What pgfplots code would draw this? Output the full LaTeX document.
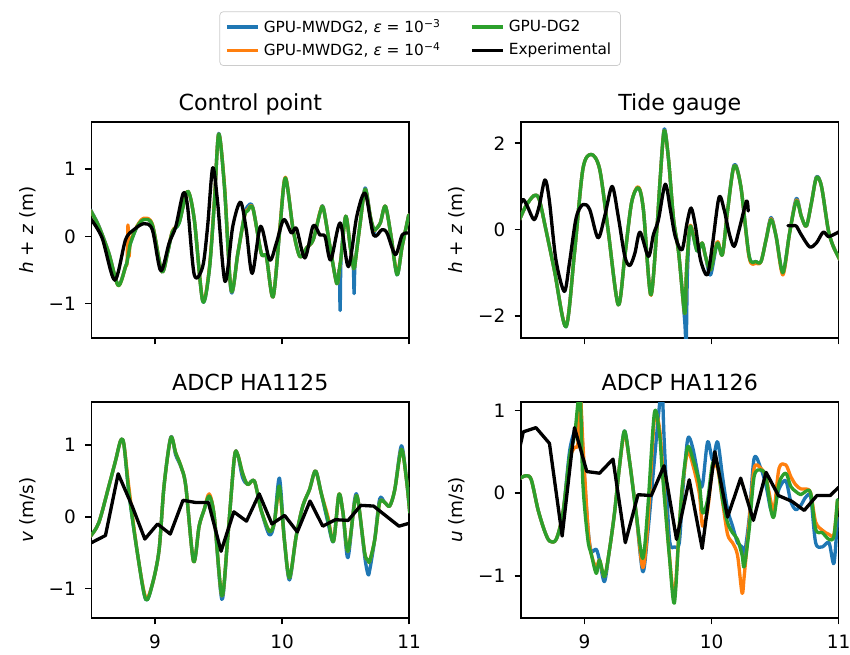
\documentclass[border=0pt]{standalone}
\usepackage{fontspec}
\setmainfont{DejaVu Sans}
\usepackage{pgfplots}
\pgfplotsset{compat=1.18}
\usepackage{pgfplotstable}
\definecolor{tabblue}{HTML}{1F77B4}
\definecolor{taborange}{HTML}{FF7F0E}
\definecolor{tabgreen}{HTML}{2CA02C}
\definecolor{leggray}{HTML}{CCCCCC}

% ---------- Control point ----------
\pgfplotstableread{
x b o g
8.491 0.40 0.39 0.39
8.557 0.16 0.15 0.15
8.636 -0.24 -0.25 -0.25
8.710 -0.72 -0.73 -0.73
8.768 -0.45 -0.45 -0.45
8.780 -0.38 -0.38 -0.38
8.787 -0.30 0.17 -0.30
8.795 -0.22 -0.30 -0.22
8.807 -0.10 -0.08 -0.10
8.860 0.15 0.16 0.15
8.913 0.26 0.27 0.25
8.979 0.17 0.18 0.17
9.053 -0.52 -0.52 -0.52
9.098 -0.25 -0.24 -0.25
9.137 0.07 0.08 0.07
9.190 0.20 0.21 0.20
9.256 0.67 0.67 0.67
9.309 0.25 0.25 0.25
9.375 -0.96 -0.95 -0.96
9.427 -0.50 -0.48 -0.50
9.467 0.50 0.52 0.50
9.501 1.53 1.52 1.52
9.546 0.75 0.77 0.75
9.599 -0.82 -0.80 -0.80
9.652 -0.25 -0.25 -0.25
9.704 0.32 0.30 0.30
9.730 0.45 0.40 0.38
9.770 0.43 0.42 0.42
9.836 -0.25 -0.25 -0.25
9.876 -0.30 -0.30 -0.30
9.929 -0.90 -0.90 -0.90
9.982 0.10 0.12 0.10
10.026 0.87 0.88 0.87
10.087 0.10 0.10 0.10
10.140 -0.30 -0.30 -0.30
10.193 -0.17 -0.17 -0.17
10.245 -0.05 -0.05 -0.05
10.298 0.35 0.36 0.35
10.325 0.43 0.42 0.42
10.377 -0.15 -0.15 -0.15
10.430 -0.70 -0.70 -0.70
10.450 -0.50 -0.50 -0.50
10.457 -1.10 -0.40 -0.40
10.465 -0.30 -0.30 -0.30
10.501 0.30 0.30 0.30
10.536 -0.15 -0.15 -0.15
10.560 -0.45 -0.45 -0.45
10.567 -0.85 -0.47 -0.47
10.575 -0.40 -0.40 -0.40
10.615 0.20 0.20 0.20
10.654 0.72 0.70 0.70
10.694 0.30 0.30 0.30
10.720 0.05 0.10 0.12
10.734 0.10 0.10 0.10
10.773 0.20 0.20 0.20
10.813 0.45 0.45 0.45
10.858 0.00 0.00 0.00
10.905 -0.57 -0.55 -0.57
10.945 -0.15 -0.15 -0.15
10.997 0.32 0.32 0.32
}\TLmodel
\pgfplotstableread{
x y
8.491 0.27
8.583 -0.02
8.683 -0.65
8.768 -0.05
8.834 0.10
8.913 0.19
8.979 0.10
9.045 -0.51
9.111 -0.10
9.164 0.15
9.222 0.64
9.256 0.45
9.309 -0.57
9.375 -0.45
9.414 0.15
9.454 1.02
9.493 0.50
9.551 -0.67
9.612 0.15
9.673 0.51
9.718 0.10
9.765 -0.55
9.831 0.15
9.902 -0.35
9.955 -0.10
10.013 0.25
10.074 0.05
10.113 0.12
10.179 -0.32
10.245 0.16
10.298 0.02
10.338 0.00
10.383 -0.35
10.457 0.20
10.522 -0.45
10.588 0.30
10.654 0.64
10.720 0.02
10.786 0.10
10.826 0.05
10.892 -0.27
10.945 0.02
10.997 0.05
}\TLexp

% ---------- Tide gauge ----------
\pgfplotstableread{
x b o g
8.489 0.23 0.23 0.23
8.537 0.54 0.54 0.54
8.603 0.79 0.79 0.79
8.643 0.70 0.70 0.70
8.696 0.00 0.00 0.00
8.762 -0.93 -0.93 -0.93
8.854 -2.25 -2.24 -2.25
8.921 -0.54 -0.54 -0.54
8.987 1.40 1.40 1.40
9.053 1.74 1.74 1.74
9.119 1.40 1.40 1.40
9.185 0.00 0.00 0.00
9.265 -1.74 -1.74 -1.74
9.317 -0.62 -0.62 -0.62
9.370 0.62 0.62 0.62
9.423 0.97 0.99 0.97
9.463 0.47 0.47 0.47
9.521 -1.51 -1.52 -1.51
9.569 0.00 0.00 0.00
9.595 1.16 1.16 1.16
9.627 2.33 2.29 2.29
9.661 1.63 1.63 1.63
9.701 0.23 0.23 0.23
9.741 -0.54 -0.54 -0.54
9.788 -2.10 -1.94 -1.94
9.800 -2.70 -1.10 -1.10
9.810 -1.00 -0.60 -0.60
9.833 0.08 0.10 0.08
9.886 -0.50 -0.45 -0.50
9.926 -0.31 -0.31 -0.31
9.952 -0.62 -0.62 -0.62
9.992 -1.05 -0.93 -0.93
10.045 -0.31 -0.28 -0.31
10.085 -0.58 -0.58 -0.58
10.124 0.39 0.39 0.39
10.177 1.50 1.47 1.47
10.230 1.00 1.00 1.00
10.296 -0.62 -0.65 -0.62
10.349 -0.74 -0.78 -0.74
10.389 -0.74 -0.74 -0.74
10.429 -0.23 -0.23 -0.23
10.468 0.28 0.25 0.23
10.508 -0.16 -0.16 -0.16
10.561 -1.00 -1.05 -1.00
10.614 -0.08 -0.08 -0.08
10.667 0.72 0.68 0.66
10.706 0.31 0.31 0.31
10.746 0.08 0.08 0.08
10.786 0.62 0.62 0.62
10.825 1.22 1.20 1.20
10.865 1.00 1.00 1.00
10.918 0.00 0.00 0.00
10.958 -0.39 -0.39 -0.39
11.010 -0.70 -0.70 -0.70
}\TRmodel
\pgfplotstableread{
x y
8.489 0.54
8.516 0.70
8.550 0.54
8.603 0.23
8.643 0.54
8.688 1.15
8.722 0.70
8.775 -0.70
8.841 -1.43
8.881 -0.78
8.934 0.27
8.987 0.58
9.040 0.47
9.106 -0.19
9.159 0.31
9.217 1.00
9.265 0.31
9.317 -0.62
9.357 -0.83
9.397 -0.54
9.437 -0.06
9.503 -0.62
9.542 -0.12
9.582 0.23
9.635 1.05
9.675 0.47
9.714 -0.16
9.767 -0.47
9.807 0.16
9.839 0.50
9.873 0.08
9.913 -0.70
9.966 -1.05
10.005 -0.39
10.058 0.74
10.098 0.47
10.138 -0.08
10.177 -0.39
10.217 0.00
10.275 0.66
10.288 0.43
}\TRexpA
\pgfplotstableread{
x y
10.601 0.09
10.640 0.09
10.667 0.08
10.706 -0.12
10.772 -0.40
10.825 -0.31
10.878 -0.06
10.918 -0.16
10.958 -0.12
11.010 -0.04
}\TRexpB

% ---------- ADCP HA1125 ----------
\pgfplotstableread{
x b o g
8.492 -0.27 -0.27 -0.27
8.558 -0.08 -0.08 -0.08
8.637 0.43 0.43 0.43
8.689 0.78 0.78 0.78
8.729 1.06 1.06 1.06
8.755 1.01 1.01 1.01
8.795 0.33 0.40 0.33
8.861 -0.50 -0.50 -0.50
8.926 -1.15 -1.12 -1.15
8.979 -0.94 -0.94 -0.94
9.032 -0.46 -0.46 -0.46
9.071 0.43 0.43 0.43
9.124 1.11 1.10 1.10
9.163 0.86 0.89 0.89
9.203 0.70 0.71 0.71
9.242 0.43 0.43 0.43
9.303 -0.62 -0.62 -0.62
9.347 -0.13 -0.13 -0.13
9.387 0.10 0.10 0.10
9.426 0.29 0.32 0.29
9.466 0.01 0.01 0.01
9.526 -1.15 -1.10 -1.10
9.571 -0.32 -0.32 -0.32
9.624 0.82 0.82 0.82
9.650 0.87 0.87 0.87
9.689 0.55 0.61 0.61
9.729 0.45 0.45 0.45
9.782 0.50 0.50 0.50
9.834 0.10 0.10 0.10
9.900 -0.25 -0.20 -0.20
9.939 -0.08 -0.08 -0.08
9.979 0.54 0.38 0.43
10.018 -0.32 -0.32 -0.32
10.058 -0.88 -0.85 -0.85
10.111 -0.27 -0.27 -0.27
10.163 0.15 0.15 0.15
10.216 0.38 0.38 0.38
10.263 0.64 0.64 0.64
10.308 0.33 0.33 0.33
10.361 -0.08 0.00 -0.04
10.405 -0.34 -0.34 -0.34
10.447 0.31 0.31 0.31
10.479 0.06 0.06 0.06
10.518 -0.57 -0.48 -0.48
10.571 0.24 0.20 0.20
10.597 0.24 0.24 0.24
10.650 -0.55 -0.50 -0.50
10.676 -0.80 -0.60 -0.60
10.689 -0.75 -0.62 -0.62
10.729 -0.32 -0.32 -0.32
10.768 0.25 0.20 0.20
10.808 0.20 0.20 0.20
10.847 0.15 0.15 0.15
10.887 0.38 0.38 0.38
10.939 0.99 0.94 0.94
10.979 0.52 0.52 0.52
11.005 0.06 0.06 0.06
}\BLmodel
\pgfplotstableread{
x y
8.50 -0.36
8.61 -0.26
8.71 0.60
8.82 0.15
8.92 -0.31
9.02 -0.10
9.12 -0.24
9.22 0.23
9.32 0.20
9.42 0.20
9.52 -0.48
9.62 0.07
9.72 -0.06
9.82 0.32
9.92 -0.10
10.02 0.02
10.12 -0.21
10.22 0.22
10.32 -0.13
10.42 -0.04
10.52 -0.05
10.62 0.16
10.72 0.15
10.82 0.01
10.92 -0.13
11.00 -0.09
}\BLexp

% ---------- ADCP HA1126 ----------
\pgfplotstableread{
x b o g
8.495 0.18 0.18 0.18
8.542 0.21 0.21 0.21
8.581 0.16 0.16 0.16
8.634 -0.20 -0.20 -0.20
8.686 -0.46 -0.46 -0.46
8.725 -0.58 -0.58 -0.58
8.777 -0.56 -0.56 -0.56
8.830 -0.24 -0.24 -0.24
8.882 0.50 0.40 0.44
8.921 0.75 0.55 0.69
8.948 0.85 0.60 1.09
8.966 1.20 1.20 1.25
8.987 0.50 0.60 0.12
9.026 -0.40 -0.40 -0.56
9.052 -0.70 -0.73 -0.73
9.092 -0.68 -0.90 -0.97
9.118 -0.81 -0.81 -0.81
9.157 -1.07 -1.01 -1.01
9.196 -0.69 -0.69 -0.69
9.236 -0.24 -0.24 -0.24
9.275 0.32 0.32 0.32
9.314 0.75 0.72 0.75
9.353 0.40 0.40 0.40
9.406 -0.24 -0.24 -0.24
9.458 -0.95 -0.90 -0.79
9.497 -0.50 -0.40 -0.20
9.550 0.40 0.90 0.97
9.589 1.05 0.80 0.73
9.610 1.30 0.40 0.30
9.628 0.60 0.00 -0.04
9.668 -0.55 -0.75 -0.77
9.707 -0.65 -1.25 -1.33
9.746 -0.60 -0.40 -0.40
9.772 0.00 0.10 0.12
9.812 0.65 0.50 0.56
9.851 0.55 0.35 0.42
9.903 0.15 0.00 0.12
9.929 0.10 -0.40 -0.24
9.969 0.62 -0.20 -0.08
10.008 0.40 0.30 0.36
10.047 0.62 0.30 0.34
10.086 0.20 -0.10 -0.08
10.126 -0.20 -0.50 -0.36
10.165 -0.40 -0.60 -0.48
10.204 -0.60 -0.75 -0.56
10.240 -0.65 -1.21 -0.75
10.257 -0.75 -1.00 -0.89
10.296 -0.30 -0.35 -0.44
10.335 0.42 0.30 0.20
10.387 0.30 0.30 0.28
10.427 0.10 0.20 0.20
10.466 -0.20 -0.10 -0.20
10.492 -0.20 -0.20 -0.28
10.531 0.05 0.30 0.12
10.584 0.15 0.34 0.24
10.623 -0.10 0.20 0.08
10.662 -0.20 0.10 0.02
10.702 -0.15 0.05 -0.02
10.741 -0.05 0.05 0.02
10.780 -0.05 0.00 0.00
10.819 -0.60 -0.35 -0.44
10.872 -0.65 -0.45 -0.48
10.924 -0.60 -0.50 -0.56
10.963 -0.85 -0.50 -0.52
10.990 -0.30 -0.10 -0.08
}\BRmodel
\pgfplotstableread{
x y
8.492 0.56
8.518 0.74
8.618 0.79
8.724 0.60
8.824 -0.52
8.921 0.79
9.018 0.26
9.118 0.24
9.224 0.41
9.321 -0.60
9.421 -0.02
9.526 -0.03
9.626 0.33
9.724 -0.56
9.824 0.16
9.926 -0.67
10.026 0.50
10.126 -0.29
10.229 0.18
10.329 -0.33
10.429 0.25
10.526 -0.03
10.632 -0.10
10.729 -0.21
10.829 -0.03
10.934 -0.03
11.000 0.07
}\BRexp

\pgfplotsset{
  panel/.style={
    scale only axis, width=172.2pt, height=117.1pt,
    anchor=south west,
    xmin=8.5, xmax=11,
    xtick={9,10,11},
    tick pos=left, tick align=outside,
    major tick length=3.5pt,
    every tick/.style={black, line width=0.8pt},
    axis line style={line width=0.8pt},
    ticklabel style={font=\fontsize{10}{12}\selectfont},
    xticklabel shift=2pt,
    yticklabel shift=1.5pt,
    label style={font=\fontsize{10}{12}\selectfont},
    every axis title/.style={at={(0.5,1)}, anchor=base, yshift=6pt,
      inner sep=0pt, font=\fontsize{12}{14.4}\selectfont},
  },
  mline/.style={line width=1.8pt, line join=round, line cap=round},
}

\begin{document}
\begin{tikzpicture}
\path[use as bounding box] (0,0) rectangle (460.8pt,-354.6pt);

% Control point
\begin{axis}[panel, at={(49.6pt,-183.24pt)},
  ymin=-1.51, ymax=1.70,
  ytick={-1,0,1}, yticklabels={−1,0,1},
  xticklabels={,,},
  title={Control point},
  ylabel={\textit{h} + \textit{z} (m)},
  legend columns=2,
  legend cell align=left,
  legend style={at={(1.0346,1.386)}, anchor=center,
    draw=leggray, rounded corners=2pt, fill=white,
    font=\fontsize{8.33}{10}\selectfont,
    /tikz/every even column/.append style={column sep=14pt}},
]
\addplot[tabblue, mline, smooth, forget plot] table[x=x,y=b]{\TLmodel};
\addplot[taborange, mline, smooth, forget plot] table[x=x,y=o]{\TLmodel};
\addplot[tabgreen, mline, smooth, forget plot] table[x=x,y=g]{\TLmodel};
\addplot[black, mline, smooth, forget plot] table[x=x,y=y]{\TLexp};
\addlegendimage{tabblue, line width=1.8pt}
\addlegendentry{GPU-MWDG2, \textit{ε} = 10\textsuperscript{−3}}
\addlegendimage{tabgreen, line width=1.8pt}
\addlegendentry{GPU-DG2}
\addlegendimage{taborange, line width=1.8pt}
\addlegendentry{GPU-MWDG2, \textit{ε} = 10\textsuperscript{−4}}
\addlegendimage{black, line width=1.8pt}
\addlegendentry{Experimental}
\end{axis}

% Tide gauge
\begin{axis}[panel, at={(282.44pt,-183.24pt)},
  ymin=-2.51, ymax=2.49,
  ytick={-2,0,2}, yticklabels={−2,0,2},
  xticklabels={,,},
  title={Tide gauge},
  ylabel={\textit{h} + \textit{z} (m)},
]
\addplot[tabblue, mline, smooth] table[x=x,y=b]{\TRmodel};
\addplot[taborange, mline, smooth] table[x=x,y=o]{\TRmodel};
\addplot[tabgreen, mline, smooth] table[x=x,y=g]{\TRmodel};
\addplot[black, mline, smooth] table[x=x,y=y]{\TRexpA};
\addplot[black, mline, smooth] table[x=x,y=y]{\TRexpB};
\end{axis}

% ADCP HA1125
\begin{axis}[panel, at={(49.6pt,-335.03pt)},
  ymin=-1.41, ymax=1.60,
  ytick={-1,0,1}, yticklabels={−1,0,1},
  xticklabels={9,10,11},
  title={ADCP HA1125},
  ylabel={\textit{v} (m/s)},
]
\addplot[tabblue, mline, smooth] table[x=x,y=b]{\BLmodel};
\addplot[taborange, mline, smooth] table[x=x,y=o]{\BLmodel};
\addplot[tabgreen, mline, smooth] table[x=x,y=g]{\BLmodel};
\addplot[black, mline] table[x=x,y=y]{\BLexp};
\end{axis}

% ADCP HA1126
\begin{axis}[panel, at={(282.44pt,-335.03pt)},
  ymin=-1.51, ymax=1.10,
  ytick={-1,0,1}, yticklabels={−1,0,1},
  xticklabels={9,10,11},
  title={ADCP HA1126},
  ylabel={\textit{u} (m/s)},
]
\addplot[tabblue, mline, smooth] table[x=x,y=b]{\BRmodel};
\addplot[taborange, mline, smooth] table[x=x,y=o]{\BRmodel};
\addplot[tabgreen, mline, smooth] table[x=x,y=g]{\BRmodel};
\addplot[black, mline] table[x=x,y=y]{\BRexp};
\end{axis}
\end{tikzpicture}
\end{document}
